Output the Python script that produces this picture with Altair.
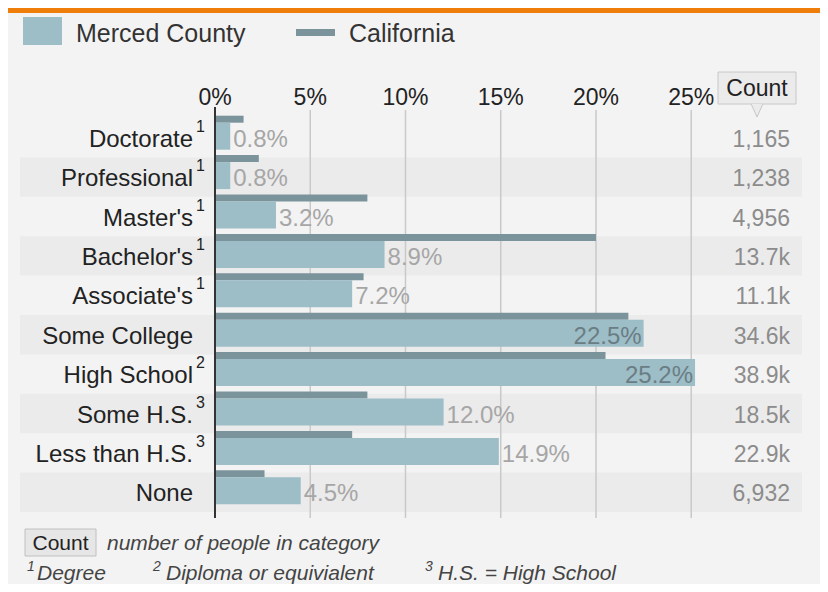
import altair as alt
import pandas as pd

categories = ["Doctorate", "Professional", "Master's", "Bachelor's", "Associate's",
              "Some College", "High School", "Some H.S.", "Less than H.S.", "None"]
merced_pct = [0.8, 0.8, 3.2, 8.9, 7.2, 22.5, 25.2, 12.0, 14.9, 4.5]
california_pct = [1.5, 2.3, 8.0, 20.0, 7.8, 21.7, 20.5, 8.0, 7.2, 2.6]
count_labels = ["1,165", "1,238", "4,956", "13.7k", "11.1k",
                "34.6k", "38.9k", "18.5k", "22.9k", "6,932"]
footnote_marks = ["1", "1", "1", "1", "1", "", "2", "3", "3", ""]
tick_values = [0, 5, 10, 15, 20, 25]
legend_labels = ["Merced County", "California"]
count_header = "Count"
count_note = "number of people in category"
footnote_nums = ["1", "2", "3"]
footnote_texts = ["Degree", "Diploma or equivialent", "H.S. = High School"]

FONT = "Liberation Sans"
W, H = 585, 394

df = pd.DataFrame({
    "cat": categories,
    "merced": merced_pct,
    "ca": california_pct,
    "count": count_labels,
    "note": footnote_marks,
})
df["stripe"] = [i % 2 == 1 for i in range(len(categories))]
df["pct_label"] = [f"{v:.1f}%" for v in merced_pct]
ticks_df = pd.DataFrame({"t": tick_values, "label": [f"{t}%" for t in tick_values]})
one = pd.DataFrame({"a": [0]})

xscale = alt.Scale(domain=[0, 30.71], nice=False, zero=False)
yscale = alt.Scale(domain=categories, paddingInner=0, paddingOuter=0)


def X(field):
    return alt.X(field, type="quantitative", scale=xscale, axis=None)


Y = alt.Y("cat:N", scale=yscale, axis=None)
base = alt.Chart(df)
ann = alt.Chart(one)

layers = []

# orange top band
layers.append(ann.mark_rect(color="#ef7d0a").encode(
    x=alt.value(-207), x2=alt.value(W + 20), y=alt.value(-110), y2=alt.value(-105)))

# row stripes
layers.append(base.transform_filter("datum.stripe").mark_rect(color="#ebebeb").encode(
    y=Y, x=alt.value(-195), x2=alt.value(587)))

# gridlines
layers.append(alt.Chart(ticks_df).transform_filter("datum.t > 0").mark_rule(
    color="#c9c9c9", strokeWidth=1.5).encode(
    x=X("t"), y=alt.value(-8), y2=alt.value(H + 6)))

# California bars
layers.append(base.mark_bar(color="#7b939b", size=7, yOffset=-18.5).encode(
    x=X("ca"), y=Y))

# Merced bars
layers.append(base.mark_bar(color="#9dbdc7", size=27, yOffset=-1.5).encode(
    x=X("merced"), y=Y))

# zero line
layers.append(alt.Chart(ticks_df).transform_filter("datum.t == 0").mark_rule(
    color="#333333", strokeWidth=2).encode(
    x=X("t"), y=alt.value(-11), y2=alt.value(H + 6)))

# value labels
layers.append(base.transform_filter("datum.merced < 20").mark_text(
    align="left", baseline="middle", dx=3, dy=2, font=FONT, fontSize=24,
    color="#a6a6a6").encode(x=X("merced"), y=Y, text="pct_label:N"))
layers.append(base.transform_filter("datum.merced >= 20").mark_text(
    align="right", baseline="middle", dx=-2, dy=2, font=FONT, fontSize=24,
    color="#6b7d84").encode(x=X("merced"), y=Y, text="pct_label:N"))

# category labels
layers.append(base.mark_text(
    align="right", baseline="middle", dy=2, font=FONT, fontSize=24,
    color="#222222").encode(x=alt.value(-22), y=Y, text="cat:N"))
layers.append(base.mark_text(
    align="left", baseline="middle", dy=-11, font=FONT, fontSize=16,
    color="#222222").encode(x=alt.value(-19), y=Y, text="note:N"))

# counts
layers.append(base.mark_text(
    align="right", baseline="middle", dy=2, font=FONT, fontSize=23,
    color="#8c8c8c").encode(x=alt.value(575), y=Y, text="count:N"))

# tick labels
layers.append(alt.Chart(ticks_df).mark_text(
    align="center", baseline="middle", font=FONT, fontSize=23,
    color="#222222").encode(x=X("t"), y=alt.value(-20), text="label:N"))

# Count header box + pointer
layers.append(ann.mark_rect(fill="#ebebeb", stroke="#c8c8c8", strokeWidth=1).encode(
    x=alt.value(503), x2=alt.value(581), y=alt.value(-46), y2=alt.value(-14)))
layers.append(ann.mark_point(
    shape="M -0.9 -1 L 0 1 L 0.9 -1", filled=True, fill="#ebebeb",
    stroke="#c8c8c8", strokeWidth=1, opacity=1, size=170).encode(
    x=alt.value(542), y=alt.value(-7.5)))
layers.append(ann.mark_text(
    text=count_header, align="center", baseline="middle", font=FONT,
    fontSize=23, color="#222222").encode(x=alt.value(542), y=alt.value(-29)))

# legend
layers.append(ann.mark_rect(color="#9dbdc7").encode(
    x=alt.value(-192), x2=alt.value(-153), y=alt.value(-101), y2=alt.value(-73)))
layers.append(ann.mark_text(
    text=legend_labels[0], align="left", baseline="middle", font=FONT,
    fontSize=25, color="#333333").encode(x=alt.value(-139), y=alt.value(-84)))
layers.append(ann.mark_rect(color="#7b939b").encode(
    x=alt.value(81), x2=alt.value(120), y=alt.value(-89), y2=alt.value(-82)))
layers.append(ann.mark_text(
    text=legend_labels[1], align="left", baseline="middle", font=FONT,
    fontSize=25, color="#333333").encode(x=alt.value(134), y=alt.value(-84)))

# footer
layers.append(ann.mark_rect(fill="#e6e6e6", stroke="#c0c0c0", strokeWidth=1).encode(
    x=alt.value(-190), x2=alt.value(-119), y=alt.value(411), y2=alt.value(438)))
layers.append(ann.mark_text(
    text=count_header, align="center", baseline="middle", font=FONT,
    fontSize=21, color="#222222").encode(x=alt.value(-154.5), y=alt.value(426)))
layers.append(ann.mark_text(
    text=count_note, align="left", baseline="middle", font=FONT, fontStyle="italic",
    fontSize=21, color="#444444").encode(x=alt.value(-108), y=alt.value(426)))

sup_x = [-188, -62, 210]
txt_x = [-178, -49, 223]
for n, t, sx, tx in zip(footnote_nums, footnote_texts, sup_x, txt_x):
    layers.append(ann.mark_text(
        text=n, align="left", baseline="middle", font=FONT, fontStyle="italic",
        fontSize=14, color="#444444").encode(x=alt.value(sx), y=alt.value(449)))
    layers.append(ann.mark_text(
        text=t, align="left", baseline="middle", font=FONT, fontStyle="italic",
        fontSize=21, color="#444444").encode(x=alt.value(tx), y=alt.value(456)))

chart = alt.layer(*layers).properties(
    width=W, height=H,
    autosize=alt.AutoSizeParams(type="none"),
    padding={"left": 207, "top": 110, "right": 20, "bottom": 72},
    background="#f3f3f3",
).configure_view(strokeWidth=0)

chart.save("out.html", embed_options={"renderer": "svg", "actions": False})
